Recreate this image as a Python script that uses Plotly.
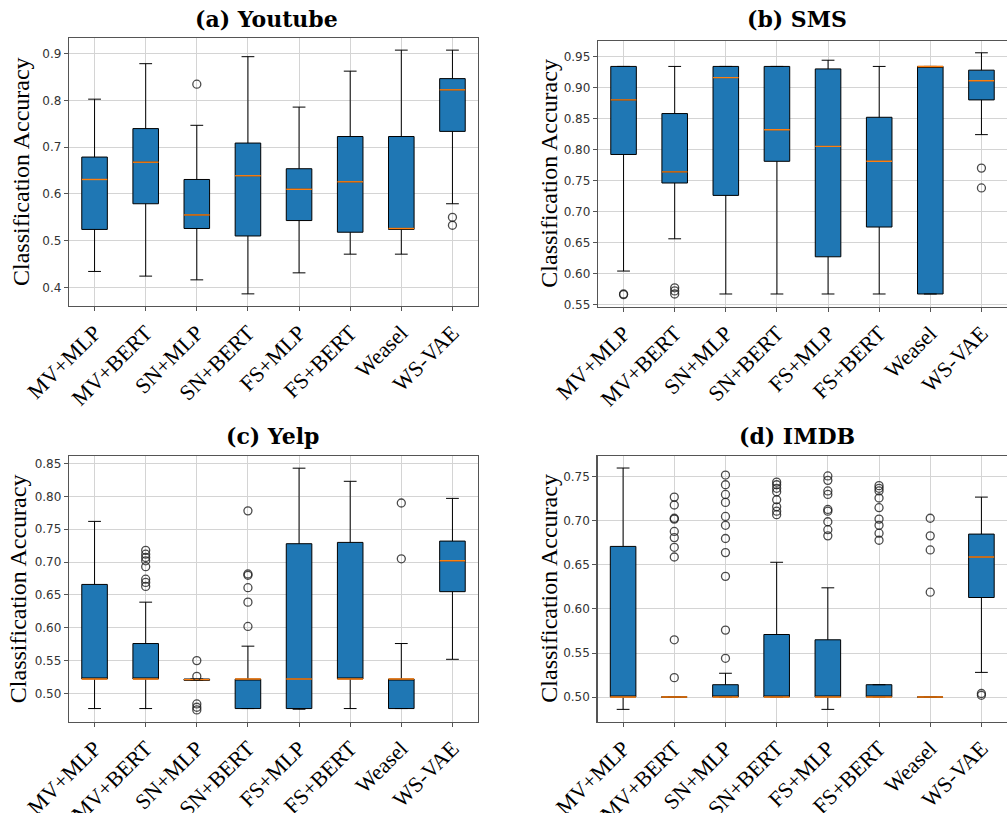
import plotly.graph_objects as go

CATEGORIES = ["MV+MLP", "MV+BERT", "SN+MLP", "SN+BERT", "FS+MLP", "FS+BERT", "Weasel", "WS-VAE"]
POSITIONS = [1, 2, 3, 4, 5, 6, 7, 8]

# (a) Youtube
YT_LO = [0.434, 0.424, 0.416, 0.386, 0.431, 0.471, 0.471, 0.579]
YT_Q1 = [0.524, 0.579, 0.526, 0.510, 0.543, 0.518, 0.524, 0.734]
YT_MED = [0.631, 0.668, 0.555, 0.639, 0.610, 0.626, 0.526, 0.823]
YT_Q3 = [0.679, 0.740, 0.631, 0.709, 0.654, 0.723, 0.723, 0.847]
YT_HI = [0.803, 0.879, 0.747, 0.894, 0.786, 0.863, 0.908, 0.908]
YT_OUT = [[], [], [0.835], [], [], [], [], [0.550, 0.533]]

# (b) SMS
SMS_LO = [0.604, 0.656, 0.567, 0.567, 0.567, 0.567, 0.567, 0.824]
SMS_Q1 = [0.792, 0.746, 0.726, 0.781, 0.627, 0.675, 0.567, 0.880]
SMS_MED = [0.880, 0.764, 0.916, 0.832, 0.805, 0.781, 0.934, 0.911]
SMS_Q3 = [0.934, 0.858, 0.934, 0.934, 0.930, 0.852, 0.934, 0.928]
SMS_HI = [0.934, 0.934, 0.934, 0.934, 0.944, 0.934, 0.934, 0.956]
SMS_OUT = [[0.567, 0.566], [0.577, 0.572, 0.567], [], [], [], [], [], [0.770, 0.738]]

# (c) Yelp
YELP_LO = [0.477, 0.477, 0.520, 0.477, 0.476, 0.477, 0.477, 0.552]
YELP_Q1 = [0.522, 0.522, 0.520, 0.477, 0.477, 0.522, 0.477, 0.655]
YELP_MED = [0.522, 0.522, 0.521, 0.522, 0.522, 0.522, 0.522, 0.702]
YELP_Q3 = [0.666, 0.576, 0.522, 0.522, 0.728, 0.730, 0.522, 0.732]
YELP_HI = [0.762, 0.639, 0.522, 0.572, 0.843, 0.823, 0.576, 0.797]
YELP_OUT = [[], [0.718, 0.712, 0.707, 0.702, 0.693, 0.674, 0.669, 0.663],
            [0.550, 0.526, 0.484, 0.479, 0.475],
            [0.778, 0.682, 0.680, 0.661, 0.639, 0.602], [], [], [0.790, 0.705], []]

# (d) IMDB
IMDB_LO = [0.486, 0.500, 0.500, 0.500, 0.486, 0.500, 0.500, 0.528]
IMDB_Q1 = [0.500, 0.500, 0.500, 0.500, 0.500, 0.500, 0.500, 0.613]
IMDB_MED = [0.500, 0.500, 0.500, 0.500, 0.500, 0.500, 0.500, 0.659]
IMDB_Q3 = [0.671, 0.500, 0.514, 0.571, 0.565, 0.514, 0.500, 0.685]
IMDB_HI = [0.760, 0.500, 0.527, 0.653, 0.624, 0.514, 0.500, 0.727]
IMDB_OUT = [[], [0.727, 0.718, 0.703, 0.702, 0.688, 0.681, 0.670, 0.659, 0.565, 0.522],
            [0.752, 0.741, 0.730, 0.721, 0.705, 0.695, 0.680, 0.664, 0.637, 0.576, 0.544],
            [0.744, 0.741, 0.737, 0.733, 0.724, 0.716, 0.711, 0.707],
            [0.751, 0.746, 0.734, 0.730, 0.713, 0.711, 0.699, 0.690, 0.683],
            [0.740, 0.737, 0.734, 0.726, 0.715, 0.702, 0.695, 0.686, 0.678],
            [0.703, 0.683, 0.667, 0.619], [0.504, 0.502]]

PANELS = [
    ("(a) Youtube", YT_LO, YT_Q1, YT_MED, YT_Q3, YT_HI, YT_OUT),
    ("(b) SMS", SMS_LO, SMS_Q1, SMS_MED, SMS_Q3, SMS_HI, SMS_OUT),
    ("(c) Yelp", YELP_LO, YELP_Q1, YELP_MED, YELP_Q3, YELP_HI, YELP_OUT),
    ("(d) IMDB", IMDB_LO, IMDB_Q1, IMDB_MED, IMDB_Q3, IMDB_HI, IMDB_OUT),
]

W, H = 1007, 813
# axes boxes in pixels: left, right, top, bottom
AX_PX = [(69, 478, 38, 306), (598, 1007, 40.7, 306.7), (69, 478, 455.7, 721.7), (597.5, 1007, 455.7, 721.7)]
TITLE_PX = [(266, 19), (797, 19), (272, 436), (797, 436)]
YTITLE_X = [21, 549, 17.5, 549]
Y_RANGES = [(0.360, 0.934), (0.5465, 0.9755), (0.457, 0.862), (0.472, 0.774)]
Y_DTICK = [0.1, 0.05, 0.05, 0.05]
Y_FMT = [".1f", ".2f", ".2f", ".2f"]

BOX_W = 0.5
BLUE = "#1f77b4"
ORANGE = "#ff7f0e"

fig = go.Figure()
layout = dict(width=W, height=H, margin=dict(l=0, r=0, t=0, b=0, pad=0, autoexpand=False),
              paper_bgcolor="white", plot_bgcolor="white", showlegend=False)
annotations = []

for i, (title, lo, q1, med, q3, hi, outs) in enumerate(PANELS):
    k = "" if i == 0 else str(i + 1)
    xa, ya = "x" + k, "y" + k
    fig.add_trace(go.Box(
        x=POSITIONS, q1=q1, median=med, q3=q3, lowerfence=lo, upperfence=hi,
        width=BOX_W, whiskerwidth=0.5, fillcolor=BLUE,
        line=dict(color="black", width=1), xaxis=xa, yaxis=ya,
        hoverinfo="skip", boxpoints=False))
    mx, my = [], []
    for p, m in zip(POSITIONS, med):
        mx += [p - BOX_W / 2, p + BOX_W / 2, None]
        my += [m, m, None]
    fig.add_trace(go.Scatter(x=mx, y=my, mode="lines", line=dict(color=ORANGE, width=1.4),
                             xaxis=xa, yaxis=ya, hoverinfo="skip"))
    ox, oy = [], []
    for p, o in zip(POSITIONS, outs):
        ox += [p] * len(o)
        oy += o
    fig.add_trace(go.Scatter(x=ox, y=oy, mode="markers",
                             marker=dict(symbol="circle-open", size=8, color="rgba(30,30,30,0.8)",
                                         line=dict(width=1.3)),
                             xaxis=xa, yaxis=ya, hoverinfo="skip"))
    l, r, t, b = AX_PX[i]
    layout["xaxis" + k] = dict(
        domain=[l / W, min(r / W, 1.0)], anchor=ya, range=[0.5, 8.5], automargin=False,
        tickmode="array", tickvals=POSITIONS, ticktext=CATEGORIES, tickangle=-45,
        tickfont=dict(family="Liberation Serif", size=22, color="black"),
        showgrid=True, gridcolor="#d4d4d4", gridwidth=1,
        showline=True, linecolor="#555", linewidth=1.2, mirror=True,
        ticks="outside", ticklen=4, tickcolor="#555", zeroline=False)
    layout["yaxis" + k] = dict(
        domain=[1 - b / H, 1 - t / H], anchor=xa, range=list(Y_RANGES[i]), automargin=False,
        dtick=Y_DTICK[i], tick0=0, tickformat=Y_FMT[i],
        tickfont=dict(family="DejaVu Sans", size=12, color="#333"),
        showgrid=True, gridcolor="#d4d4d4", gridwidth=1,
        showline=True, linecolor="#555", linewidth=1.2, mirror=True,
        ticks="outside", ticklen=4, tickcolor="#555", zeroline=False)
    tx, ty = TITLE_PX[i]
    annotations.append(dict(text="<b>" + title + "</b>", x=tx / W, y=1 - ty / H,
                            xref="paper", yref="paper", xanchor="center", yanchor="middle",
                            showarrow=False, font=dict(family="DejaVu Serif", size=22, color="black")))
    annotations.append(dict(text="Classification Accuracy", x=YTITLE_X[i] / W, y=1 - (t + b) / 2 / H,
                            xref="paper", yref="paper", xanchor="center", yanchor="middle",
                            textangle=-90, showarrow=False,
                            font=dict(family="Liberation Serif", size=24, color="black")))

layout["annotations"] = annotations
fig.update_layout(**layout)
fig.write_html("out.html", config={"displayModeBar": False, "staticPlot": True},
               post_script="document.body.style.margin='0';document.body.style.overflow='hidden';")
